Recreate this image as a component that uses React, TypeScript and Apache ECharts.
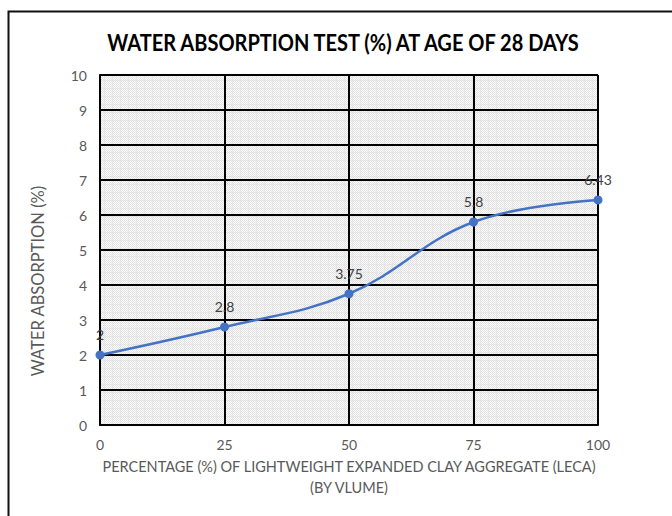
import React, { useEffect, useRef } from "react";
import * as echarts from "echarts";

const TITLE = "WATER ABSORPTION TEST (%) AT AGE OF 28 DAYS";
const X_NAME = "PERCENTAGE (%) OF LIGHTWEIGHT EXPANDED CLAY AGGREGATE (LECA)\n(BY VLUME)";
const Y_NAME = "WATER ABSORPTION (%)";
const leca = [0, 25, 50, 75, 100];
const absorption = [2, 2.8, 3.75, 5.8, 6.43];

function makePattern(): HTMLCanvasElement {
  const c = document.createElement("canvas");
  const n = 8;
  c.width = n;
  c.height = n;
  const ctx = c.getContext("2d")!;
  ctx.fillStyle = "#ffffff";
  ctx.fillRect(0, 0, n, n);
  for (let y = 0; y < n; y++) {
    for (let x = 0; x < n; x++) {
      let col: string | null = null;
      if ((x + y) % 2 === 0) col = "#e0e0e0";
      if ((x === 0 || y === 0) && (x + y) % 2 === 1) col = "#eeeeee";
      if (col) {
        ctx.fillStyle = col;
        ctx.fillRect(x, y, 1, 1);
      }
    }
  }
  return c;
}

export default function App() {
  const ref = useRef<HTMLDivElement>(null);
  useEffect(() => {
    if (!ref.current) return;
    const chart = echarts.init(ref.current, null, { renderer: "svg" });
    const font = "Lato, 'Open Sans', sans-serif";
    chart.setOption({
      animation: false,
      backgroundColor: "#ffffff",
      textStyle: { fontFamily: font },
      graphic: [
        {
          type: "rect",
          left: 6,
          top: 9,
          shape: { width: 720, height: 560 },
          style: { fill: "none", stroke: "#111111", lineWidth: 2 },
          z: -1,
          silent: true,
        },
        {
          type: "text",
          x: 343,
          y: 42,
          scaleX: 0.87,
          style: {
            text: TITLE,
            fontFamily: font,
            fontWeight: "bold",
            fontSize: 23,
            fill: "#000000",
            textAlign: "center",
            textVerticalAlign: "middle",
          },
          silent: true,
        },
        {
          type: "text",
          x: 38,
          y: 281,
          rotation: Math.PI / 2,
          style: {
            text: Y_NAME,
            fontFamily: font,
            fontSize: 16.5,
            fill: "#595959",
            textAlign: "center",
            textVerticalAlign: "middle",
          },
          silent: true,
        },
      ],
      grid: {
        left: 100,
        right: 74,
        top: 75,
        bottom: 91,
        show: true,
        borderWidth: 0,
        backgroundColor: { image: makePattern(), repeat: "repeat" },
      },
      xAxis: {
        type: "value",
        min: 0,
        max: 100,
        interval: 25,
        name: X_NAME,
        nameLocation: "middle",
        nameGap: 30,
        nameTextStyle: { fontSize: 14.5, color: "#595959", lineHeight: 21, fontFamily: font },
        axisLine: { show: true, lineStyle: { color: "#000", width: 2 } },
        axisTick: { show: false },
        axisLabel: { color: "#595959", fontSize: 14, margin: 12, fontFamily: font },
        splitLine: { show: true, lineStyle: { color: "#000", width: 2 } },
      },
      yAxis: {
        type: "value",
        min: 0,
        max: 10,
        interval: 1,
        axisLine: { show: true, lineStyle: { color: "#000", width: 2 } },
        axisTick: { show: false },
        axisLabel: { color: "#595959", fontSize: 14, margin: 13, fontFamily: font },
        splitLine: { show: true, lineStyle: { color: "#000", width: 2 } },
      },
      series: [
        {
          type: "line",
          data: leca.map((x, i) => [x, absorption[i]]),
          smooth: 0.4,
          symbol: "circle",
          symbolSize: 9,
          lineStyle: { color: "#4472C4", width: 2.5 },
          itemStyle: { color: "#4472C4" },
          label: {
            show: true,
            position: "top",
            distance: 9,
            color: "#404040",
            fontSize: 14,
            fontFamily: font,
          },
          z: 5,
        },
      ],
    });
    return () => chart.dispose();
  }, []);
  return (
    <div
      ref={ref}
      style={{ position: "fixed", left: 0, top: 0, width: 672, height: 516 }}
    />
  );
}
